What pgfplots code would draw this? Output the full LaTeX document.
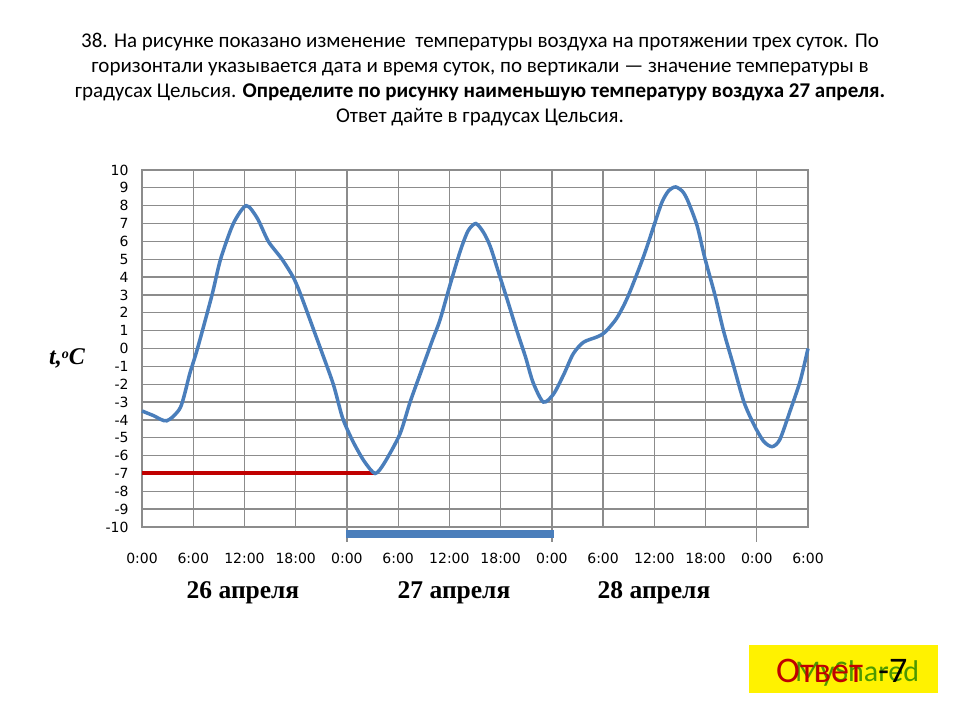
\documentclass[border=0pt]{standalone}
\usepackage{fontspec}
\usepackage{pgfplots}
\pgfplotsset{compat=1.18}
\setmainfont{Carlito}
\newfontfamily\dejavu{DejaVu Sans}
\newfontfamily\lserif{Liberation Serif}
\definecolor{curveblue}{RGB}{74,126,187}
\definecolor{darkred}{RGB}{192,0,0}
\definecolor{gridgray}{RGB}{140,140,140}
\begin{document}
\begin{tikzpicture}[x=1pt,y=1pt]
\path[fill=white] (0,0) rectangle (960,720);
% title
\begin{scope}[every node/.style={anchor=base, font=\fontsize{21}{24}\selectfont, inner sep=0pt}]
\node at (480,672) {38. На рисунке показано изменение \ температуры воздуха на протяжении трех суток. По};
\node at (480,647) {горизонтали указывается дата и время суток, по вертикали --- значение температуры в};
\node at (480,622) {градусах Цельсия. \textbf{Определите по рисунку наименьшую температуру воздуха 27 апреля.}};
\node at (480,597) {Ответ дайте в градусах Цельсия.};
\end{scope}
\begin{axis}[
  at={(142pt,193pt)}, anchor=south west,
  scale only axis, width=666pt, height=357pt,
  xmin=0, xmax=78, ymin=-10, ymax=10,
  clip=false,
  xtick={0,6,...,78},
  xticklabels={0:00,6:00,12:00,18:00,0:00,6:00,12:00,18:00,0:00,6:00,12:00,18:00,0:00,6:00},
  ytick={-10,-9,...,10},
  yticklabels={-10,-9,-8,-7,-6,-5,-4,-3,-2,-1,0,1,2,3,4,5,6,7,8,9,10},
  xtick pos=bottom, ytick pos=left,
  major tick length=0pt,
  grid=major,
  grid style={gridgray, line width=1.3pt},
  axis line style={gridgray, line width=1.3pt},
  xticklabel style={font=\dejavu\fontsize{14}{16}\selectfont, yshift=-23pt},
  yticklabel style={font=\dejavu\fontsize{14}{16}\selectfont, xshift=-10pt},
]
\draw[gridgray, line width=1.3pt] (axis cs:24,-10) -- (axis cs:24,-10.84);
\draw[gridgray, line width=1.3pt] (axis cs:48,-10) -- (axis cs:48,-10.84);
\draw[gridgray, line width=1.3pt] (axis cs:72,-10) -- (axis cs:72,-10.84);
\addplot[darkred, line width=4pt] coordinates {(0,-7) (27.3,-7)};
\addplot[curveblue, line width=8pt] coordinates {(23.9,-10.38) (48.2,-10.38)};
\addplot[curveblue, line width=3.5pt, smooth, tension=0.45] coordinates {
(0,-3.5) (1.3,-3.75) (2.9,-4.05) (4.5,-3.3) (5.6,-1.4) (6.5,0) (8.2,3) (9.2,5) (10.7,7) (12.2,8)
(13.5,7.3) (14.8,6) (16.4,5) (17.7,4) (18.6,3) (20.9,0) (22.4,-2) (23.5,-3.9) (24.7,-5.2)
(26,-6.3) (27.3,-7) (28.4,-6.4) (30.2,-4.8) (31.4,-3) (32.6,-1.4) (34,0.45)
(34.9,1.6) (36.1,3.6) (37.3,5.5) (38.2,6.6) (39.1,7) (40,6.5) (40.8,5.7) (41.8,4.2) (42.8,2.7)
(43.9,1) (44.9,-0.45) (45.8,-1.9) (47,-3) (48.2,-2.55) (49.4,-1.45) (50.5,-0.3) (51.7,0.35)
(53.3,0.65) (54.2,0.9) (55.6,1.7) (56.9,2.9) (58.7,5.1) (59.9,6.8) (60.9,8.2) (61.7,8.85) (62.5,9.05)
(63.3,8.8) (63.9,8.3) (65,6.9) (65.9,5.1) (67.1,3) (68.1,1) (69.3,-1) (70.5,-3) (71.7,-4.3)
(72.8,-5.2) (73.8,-5.5) (74.7,-5.1) (75.9,-3.5) (77.1,-1.8) (78,0)};
\end{axis}
% y-axis label
\node[font=\lserif\bfseries\itshape\fontsize{24}{26}\selectfont] at (67,362) {t,\raisebox{0.55ex}{\fontsize{14}{15}\selectfont o}C};
% day labels
\node[font=\lserif\bfseries\fontsize{25.5}{28}\selectfont] at (243,127) {26 апреля};
\node[font=\lserif\bfseries\fontsize{25.5}{28}\selectfont] at (454,127) {27 апреля};
\node[font=\lserif\bfseries\fontsize{25.5}{28}\selectfont] at (654,127) {28 апреля};
% answer box
\fill[yellow] (749,27) rectangle (938,75);
\node[anchor=base west, font=\fontsize{30}{32}\selectfont, text=green!45!black, opacity=0.7, inner sep=0pt] at (795,39) {MyShared};
\node[anchor=base west, font=\fontsize{36}{38}\selectfont, inner sep=0pt, text=darkred] at (776,38) {Ответ};
\node[anchor=base west, font=\fontsize{36}{38}\selectfont, inner sep=0pt] at (878,38) {-7};
\end{tikzpicture}
\end{document}
